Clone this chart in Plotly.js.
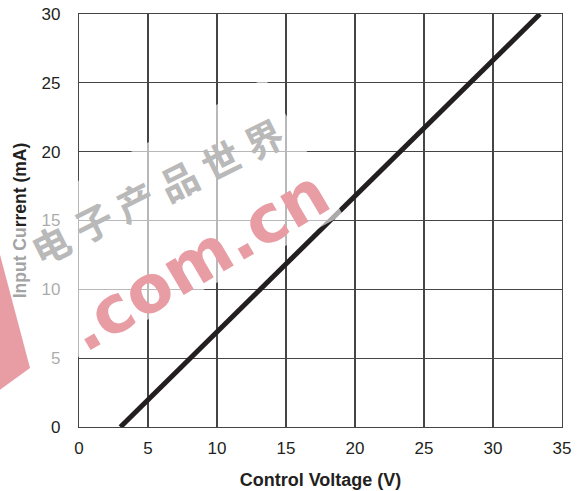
<!DOCTYPE html>
<html>
<head>
<meta charset="utf-8">
<script src="https://cdn.plot.ly/plotly-3.0.1.min.js"></script>
<style>
  html, body { margin: 0; padding: 0; background: #ffffff; }
  #chart { width: 579px; height: 491px; }
</style>
</head>
<body>
<div id="chart"></div>
<script>
// Transfer characteristic: input current vs. control voltage
const controlVoltage = [3, 33.4];   // V
const inputCurrent = [0, 30];       // mA

const xTickValues = [0, 5, 10, 15, 20, 25, 30, 35];
const yTickValues = [0, 5, 10, 15, 20, 25, 30];

const W = 579, H = 491;
const M = { l: 79, r: 17, t: 14, b: 64 };
const plotW = W - M.l - M.r;
const plotH = H - M.t - M.b;

// pixel position on the page -> paper coordinates
function px(x) { return (x - M.l) / plotW; }
function py(y) { return (H - M.b - y) / plotH; }
function poly(points) {
  return 'M ' + points.map(p => px(p[0]).toFixed(4) + ' ' + py(p[1]).toFixed(4)).join(' L ') + ' Z';
}

const ink = '#231f20';
const gridInk = '#454545';
const baseFont = 'Liberation Sans, Arial, Helvetica, sans-serif';
const markPink = 'rgb(232,156,163)';

const trace = {
  x: controlVoltage,
  y: inputCurrent,
  type: 'scatter',
  mode: 'lines',
  line: { color: ink, width: 5 },
  hoverinfo: 'skip',
  showlegend: false
};

const axisCommon = {
  showgrid: true,
  gridcolor: gridInk,
  gridwidth: 1.2,
  showline: true,
  linecolor: gridInk,
  linewidth: 1.2,
  mirror: true,
  zeroline: false,
  ticks: '',
  tickfont: { family: baseFont, size: 17, color: ink },
  fixedrange: true
};

// site mark: Chinese name laid out one glyph at a time along a slanted line
const markChars = ['电', '子', '产', '品', '世', '界'];
const markStart = [50, 243], markEnd = [263, 137];
const charNotes = markChars.map((ch, i) => {
  const t = i / (markChars.length - 1);
  return {
    xref: 'paper', yref: 'paper',
    x: px(markStart[0] + t * (markEnd[0] - markStart[0])),
    y: py(markStart[1] + t * (markEnd[1] - markStart[1])),
    xanchor: 'center', yanchor: 'middle',
    text: ch,
    textangle: -26.5,
    showarrow: false,
    font: { family: 'Noto Sans CJK SC, sans-serif', size: 38, color: '#b9b9b9', weight: 'bold' }
  };
});

const layout = {
  width: W,
  height: H,
  margin: M,
  paper_bgcolor: '#ffffff',
  plot_bgcolor: '#ffffff',
  showlegend: false,
  xaxis: Object.assign({}, axisCommon, {
    range: [0, 35],
    tickmode: 'array',
    tickvals: xTickValues,
    ticktext: xTickValues.map(String),
    ticklabelstandoff: 5,
    title: {
      text: 'Control Voltage (V)',
      font: { family: baseFont, size: 18, color: ink, weight: 'bold' },
      standoff: 16
    }
  }),
  yaxis: Object.assign({}, axisCommon, {
    range: [0, 30],
    tickmode: 'array',
    tickvals: yTickValues,
    ticktext: yTickValues.map(String),
    ticklabelstandoff: 14,
    title: {
      text: "<span style='color:#a3a3a3'>Input Cu</span>rrent (mA)",
      font: { family: baseFont, size: 17.5, color: ink, weight: 'bold' },
      standoff: 10
    }
  }),
  shapes: [
    // pale band behind the site mark
    {
      type: 'path', xref: 'paper', yref: 'paper', layer: 'above',
      path: poly([[265, 78], [343, 215], [-60, 431], [-60, 257]]),
      fillcolor: 'rgba(255,255,255,0.62)', line: { width: 0 }
    },
    // red corner of the site logo
    {
      type: 'path', xref: 'paper', yref: 'paper', layer: 'above',
      path: poly([[-10, 217], [30, 368], [-10, 397]]),
      fillcolor: markPink, line: { width: 0 }
    }
  ],
  annotations: charNotes.concat([
    {
      xref: 'paper', yref: 'paper',
      x: px(198), y: py(260),
      xanchor: 'center', yanchor: 'middle',
      text: '.com.cn',
      textangle: -30.5,
      showarrow: false,
      font: { family: 'DejaVu Sans, sans-serif', size: 66, color: markPink, weight: 'bold' }
    }
  ])
};

Plotly.newPlot('chart', [trace], layout, { staticPlot: true, displayModeBar: false });
</script>
</body>
</html>
